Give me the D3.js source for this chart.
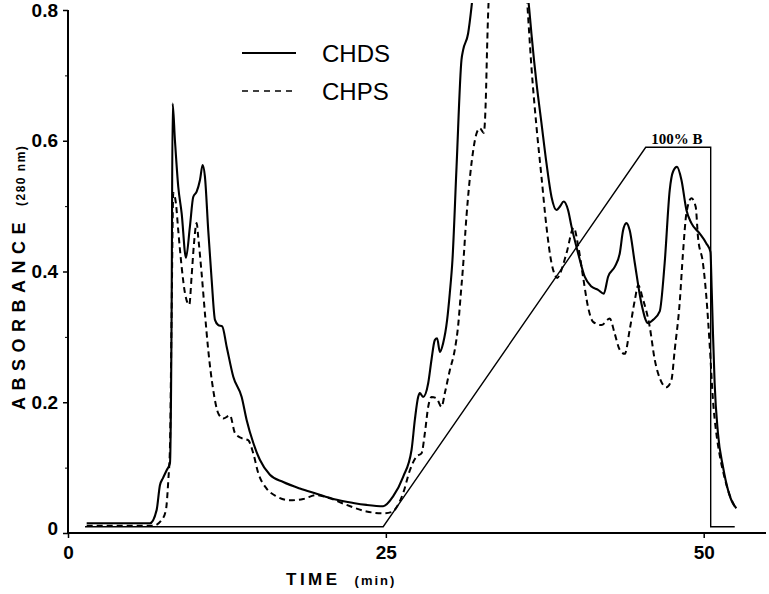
<!DOCTYPE html>
<html><head><meta charset="utf-8">
<script src="https://cdn.jsdelivr.net/npm/d3@7"></script>
<style>
html,body{margin:0;padding:0;background:#fff;}
svg{display:block;}
</style></head>
<body>
<svg id="c" width="769" height="594"></svg>
<script>
// ---- data ----
const chdsTime = [1.47,6.45,6.97,7.23,7.47,7.76,8.02,8.15,8.23,8.41,8.67,8.94,9.28,9.59,9.85,10.12,10.38,10.59,10.77,11.03,11.30,11.56,11.82,12.13,12.48,13.00,13.66,14.05,14.57,15.09,15.88,16.93,18.24,19.55,20.86,22.43,23.48,24.79,25.57,26.36,27.02,27.28,27.54,27.67,27.93,28.33,28.59,28.85,29.03,29.25,29.50,29.82,30.03,30.24,30.56,30.95,31.08,31.47,31.74,31.88,35.5,36.12,36.27,36.45,36.85,37.24,37.63,38.03,38.42,38.68,38.99,39.33,39.60,40.12,40.64,41.17,41.69,42.14,42.48,43.00,43.40,43.66,43.92,44.18,44.58,45.10,45.62,46.01,46.54,46.93,47.33,47.59,47.90,48.25,48.64,49.03,49.69,50.21,50.53,50.63,50.73,50.86,51.12,51.52,51.91,52.30,52.57];
const chdsAbs  = [0.015,0.015,0.035,0.073,0.084,0.096,0.107,0.337,0.657,0.601,0.530,0.489,0.421,0.469,0.514,0.522,0.540,0.563,0.545,0.463,0.387,0.326,0.318,0.316,0.285,0.239,0.208,0.173,0.138,0.112,0.089,0.078,0.068,0.060,0.052,0.046,0.043,0.041,0.056,0.086,0.127,0.173,0.208,0.214,0.208,0.229,0.265,0.295,0.298,0.277,0.290,0.326,0.367,0.418,0.560,0.724,0.739,0.764,0.805,0.831,1.05,0.831,0.803,0.764,0.688,0.627,0.566,0.514,0.494,0.499,0.507,0.494,0.469,0.428,0.392,0.377,0.372,0.366,0.392,0.407,0.428,0.463,0.474,0.463,0.413,0.351,0.321,0.326,0.339,0.413,0.525,0.553,0.560,0.540,0.494,0.474,0.458,0.443,0.430,0.372,0.305,0.229,0.153,0.101,0.066,0.045,0.038];

const chpsTime = [1.47,6.71,7.37,7.70,7.89,8.02,8.15,8.28,8.49,8.67,8.94,9.20,9.54,9.72,9.91,10.12,10.24,10.51,10.77,11.03,11.42,11.82,12.21,12.74,13.13,13.66,14.17,14.57,14.96,15.62,16.41,17.45,18.50,19.55,20.60,21.91,23.48,24.79,25.45,26.36,26.89,27.41,27.81,28.07,28.33,28.59,28.99,29.38,29.64,30.03,30.42,30.68,30.90,31.05,31.34,31.74,32.13,32.39,32.70,32.86,32.96,33.04,33.14,35.2,36.05,36.19,36.45,36.85,37.24,37.63,38.03,38.29,38.48,38.68,39.21,39.78,40.12,40.51,40.90,41.30,41.96,42.61,43.00,43.40,43.79,44.18,44.58,44.85,45.20,45.75,46.15,46.54,47.07,47.46,47.72,48.11,48.37,48.64,49.03,49.37,49.55,49.94,50.21,50.47,50.73,50.99,51.26,51.65,52.04,52.44];
const chpsAbs  = [0.011,0.011,0.020,0.035,0.081,0.132,0.336,0.520,0.504,0.463,0.407,0.367,0.349,0.392,0.443,0.474,0.453,0.397,0.336,0.280,0.219,0.183,0.175,0.180,0.153,0.145,0.142,0.122,0.092,0.068,0.056,0.050,0.052,0.058,0.053,0.043,0.033,0.030,0.032,0.061,0.096,0.117,0.122,0.153,0.193,0.208,0.206,0.193,0.214,0.249,0.280,0.316,0.367,0.402,0.484,0.566,0.611,0.619,0.612,0.662,0.739,0.792,0.831,0.95,0.831,0.790,0.713,0.621,0.545,0.469,0.413,0.395,0.390,0.396,0.428,0.467,0.440,0.392,0.346,0.323,0.318,0.328,0.305,0.280,0.274,0.311,0.356,0.379,0.359,0.316,0.265,0.237,0.223,0.234,0.280,0.352,0.428,0.489,0.512,0.499,0.453,0.413,0.361,0.288,0.203,0.153,0.119,0.084,0.058,0.041];

const gradTime = [1.34,24.79,45.44,50.55,50.55,52.44];
const gradAbs  = [0.0096,0.0096,0.590,0.590,0.0096,0.0096];

const xTicks = [0,25,50];
const yMajor = [0,0.2,0.4,0.6,0.8];
const yMinor = [0.1,0.3,0.5,0.7];
const yTickLabels = ["0","0.2","0.4","0.6","0.8"];
const seriesNames = ["CHDS","CHPS"];

// ---- chart ----
const svg = d3.select("#c");
const x = d3.scaleLinear().domain([0,54.9]).range([68,766]);
const y = d3.scaleLinear().domain([0,0.8]).range([533,10]);

svg.append("defs").append("clipPath").attr("id","clip")
  .append("rect").attr("x",68).attr("y",3).attr("width",700).attr("height",531);

const g = svg.append("g").attr("clip-path","url(#clip)");

const line = d3.line().x(d=>x(d[0])).y(d=>y(d[1])).curve(d3.curveMonotoneX);
const lineLin = d3.line().x(d=>x(d[0])).y(d=>y(d[1]));

const chds = chdsTime.map((t,i)=>[t,chdsAbs[i]]);
const chps = chpsTime.map((t,i)=>[t,chpsAbs[i]]);
const grad = gradTime.map((t,i)=>[t,gradAbs[i]]);

g.append("path").attr("d",lineLin(grad)).attr("fill","none").attr("stroke","#000").attr("stroke-width",1.4);
g.append("path").attr("d",line(chps)).attr("fill","none").attr("stroke","#000").attr("stroke-width",2).attr("stroke-dasharray","6,4");
g.append("path").attr("d",line(chds)).attr("fill","none").attr("stroke","#000").attr("stroke-width",2.1);

// axes
const fontT = "'Liberation Sans Narrow','Liberation Sans',Arial,sans-serif";
const xAxis = d3.axisBottom(x).tickValues(xTicks).tickSize(5).tickFormat(d3.format("d"));
const xg = svg.append("g").attr("transform","translate(0,533)").call(xAxis);
xg.select(".domain").attr("stroke-width",2).attr("d","M68,0H766");
xg.selectAll(".tick line").attr("stroke-width",1.5);
xg.selectAll(".tick text").attr("font-family",fontT).attr("font-weight","bold").attr("font-size",19).attr("dy","0.95em").attr("fill","#000");

const yAxis = d3.axisLeft(y).tickValues(yMajor).tickSize(5).tickFormat((d,i)=>yTickLabels[i]);
const yg = svg.append("g").attr("transform","translate(68,0)").call(yAxis);
yg.select(".domain").attr("stroke-width",2).attr("d","M0,533V10");
yg.selectAll(".tick line").attr("stroke-width",1.5);
yg.selectAll(".tick text").attr("font-family",fontT).attr("font-weight","bold").attr("font-size",19).attr("x",-10).attr("fill","#000");
yg.selectAll(".tick").filter(d=>d===0).select("text").attr("dy","0.1em");

const yMin = d3.axisLeft(y).tickValues(yMinor).tickSize(3).tickFormat("");
const ymg = svg.append("g").attr("transform","translate(68,0)").call(yMin);
ymg.select(".domain").remove();

// axis titles
const xt = svg.append("text").attr("x",286).attr("y",585).attr("text-anchor","start")
  .attr("font-family",fontT).attr("font-weight","bold").attr("fill","#000");
xt.append("tspan").attr("font-size",17).attr("letter-spacing","3.5px").text("TIME");
xt.append("tspan").attr("font-size",13).attr("dx",14).attr("letter-spacing","2px").text("(min)");

const yt = svg.append("text").attr("transform","translate(25,410) rotate(-90)").attr("text-anchor","start")
  .attr("font-family","'Liberation Sans',Arial,sans-serif").attr("font-weight","bold").attr("fill","#000");
yt.append("tspan").attr("font-size",18).attr("letter-spacing","6.5px").text("ABSORBANCE");
yt.append("tspan").attr("font-size",12).attr("dx",10).attr("letter-spacing","1.5px").text("(280 nm)");

// gradient label
svg.append("text").attr("x",677).attr("y",144).attr("text-anchor","middle")
  .attr("font-family","'Liberation Serif','DejaVu Serif',serif").attr("font-weight","bold").attr("font-size",15).attr("fill","#000").text("100% B");

// legend
const lg = svg.append("g");
const legY = [53, 91];
seriesNames.forEach((n,i)=>{
  lg.append("line").attr("x1",242).attr("x2",296).attr("y1",legY[i]).attr("y2",legY[i])
    .attr("stroke","#000").attr("stroke-width",i===0?2.1:1.6).attr("stroke-dasharray",i===0?null:"6,5");
  lg.append("text").attr("x",322).attr("y",legY[i]).attr("dy","0.36em")
    .attr("font-family","'Liberation Sans',Arial,sans-serif").attr("font-size",24).attr("fill","#000").text(n);
});
</script>
</body></html>
